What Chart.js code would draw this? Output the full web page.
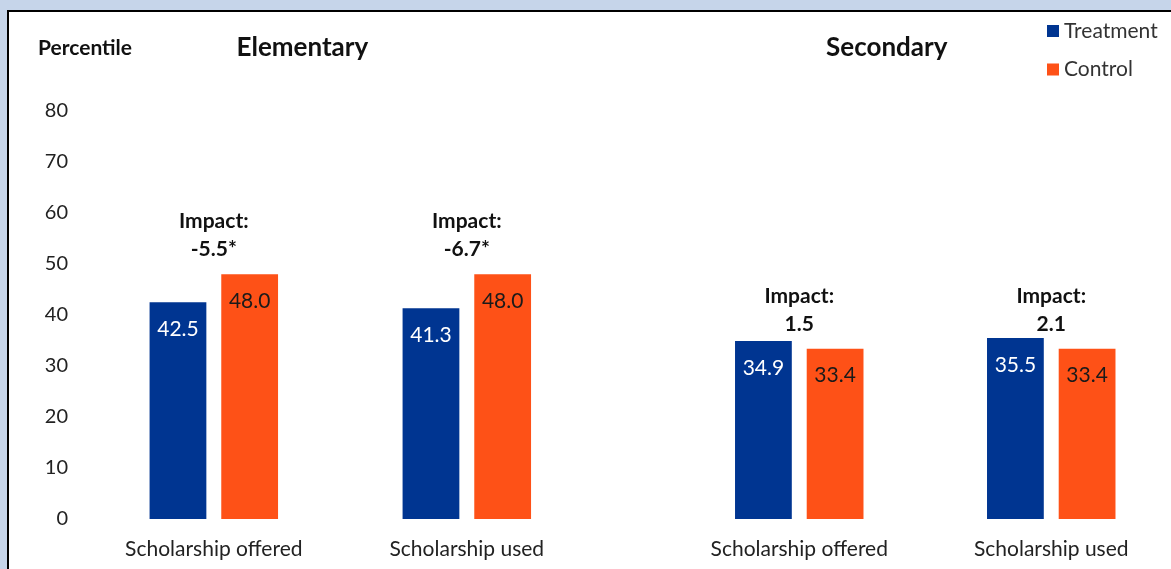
<!DOCTYPE html>
<html>
<head>
<meta charset="utf-8">
<script src="https://cdn.jsdelivr.net/npm/chart.js@4"></script>
<style>
  body { margin: 0; background: #c6d5ea; overflow: hidden; }
  #panel { position: absolute; left: 7px; top: 10px; width: 1200px; height: 600px;
           background: #fff; border-top: 2px solid #000; border-left: 2px solid #000; }
  #chart { position: absolute; left: 0; top: 0; }
</style>
</head>
<body>
<div id="panel"></div>
<canvas id="chart" width="1171" height="569"></canvas>
<script>
//Dados
const categories = ['Scholarship offered', 'Scholarship used', 'Scholarship offered', 'Scholarship used'];
const treatment = [42.5, 41.3, 34.9, 35.5];
const control = [48.0, 48.0, 33.4, 33.4];
const impacts = ['-5.5*', '-6.7*', '1.5', '2.1'];
const groups = ['Elementary', 'Secondary'];
const yTicks = [0, 10, 20, 30, 40, 50, 60, 70, 80];

//Layout
const slots = [0, 1, 2.314, 3.31];       // category positions on the x axis (gap between groups)
const impactAt = [52.8, 52.8, 38.2, 38.2]; // y value where the impact note sits
const groupTitleAt = [0.35, 2.66];       // x value of the group titles
const FONT = 'Lato, "Open Sans", sans-serif';
const BLUE = '#003591', ORANGE = '#fe5117';

const overlay = {
    id: 'overlay',
    afterDatasetsDraw(chart) {
        const ctx = chart.ctx;
        const x = chart.scales.x, y = chart.scales.y;
        const m0 = chart.getDatasetMeta(0), m1 = chart.getDatasetMeta(1);
        ctx.save();
        ctx.textAlign = 'center';
        ctx.textBaseline = 'middle';
        //valores dentro das barras
        ctx.font = '21px ' + FONT;
        m0.data.forEach((b, i) => {
            ctx.fillStyle = '#ffffff';
            ctx.fillText(treatment[i].toFixed(1), b.x, b.y + 27);
        });
        m1.data.forEach((b, i) => {
            ctx.fillStyle = '#1a1a1a';
            ctx.fillText(control[i].toFixed(1), b.x, b.y + 27);
        });
        //impacto
        ctx.font = 'bold 21px ' + FONT;
        ctx.fillStyle = '#111';
        impacts.forEach((t, i) => {
            const cx = (m0.data[i].x + m1.data[i].x) / 2;
            const cy = y.getPixelForValue(impactAt[i]);
            ctx.fillText('Impact:', cx, cy - 28);
            ctx.fillText(t, cx, cy);
        });
        //titulos
        ctx.font = 'bold 26px ' + FONT;
        groups.forEach((g, i) => ctx.fillText(g, x.getPixelForValue(groupTitleAt[i]), 48));
        ctx.font = 'bold 21px ' + FONT;
        ctx.fillText('Percentile', 85, 48);
        //legenda
        ctx.textAlign = 'left';
        ctx.font = '21px ' + FONT;
        chart.data.datasets.forEach((ds, i) => {
            const top = 25 + i * 38.5;
            ctx.fillStyle = ds.backgroundColor;
            ctx.fillRect(1047, top, 12, 12);
            ctx.fillStyle = '#333';
            ctx.fillText(ds.label, 1064, top + 6);
        });
        ctx.restore();
    }
};

const ctx = document.getElementById('chart').getContext('2d');
new Chart(ctx, {
    type: 'bar',
    data: {
        datasets: [{
            label: 'Treatment',
            data: treatment.map((v, i) => ({ x: slots[i], y: v })),
            backgroundColor: BLUE
        }, {
            label: 'Control',
            data: control.map((v, i) => ({ x: slots[i], y: v })),
            backgroundColor: ORANGE
        }]
    },
    options: {
        responsive: false,
        animation: false,
        devicePixelRatio: 1,
        categoryPercentage: 0.569,
        barPercentage: 0.792,
        layout: { padding: { left: 0, right: 6, top: 111, bottom: 0 } },
        plugins: { legend: { display: false }, tooltip: { enabled: false } },
        scales: {
            x: {
                type: 'linear',
                min: -0.5289,
                max: 3.7596,
                offset: false,
                grid: { display: false, drawTicks: false },
                border: { display: false },
                afterBuildTicks: axis => { axis.ticks = slots.map(v => ({ value: v })); },
                afterFit: axis => { axis.height = 50; },
                ticks: {
                    autoSkip: false,
                    maxRotation: 0,
                    padding: 18,
                    color: '#222',
                    font: { family: FONT, size: 21 },
                    callback: (v, i) => categories[i]
                }
            },
            y: {
                min: 0,
                max: 80,
                grid: { display: false, drawTicks: false },
                border: { display: false },
                afterBuildTicks: axis => { axis.ticks = yTicks.map(v => ({ value: v })); },
                afterFit: axis => { axis.width = 80; },
                ticks: {
                    padding: 12,
                    color: '#222',
                    font: { family: FONT, size: 20 }
                }
            }
        }
    },
    plugins: [overlay]
});
</script>
</body>
</html>
